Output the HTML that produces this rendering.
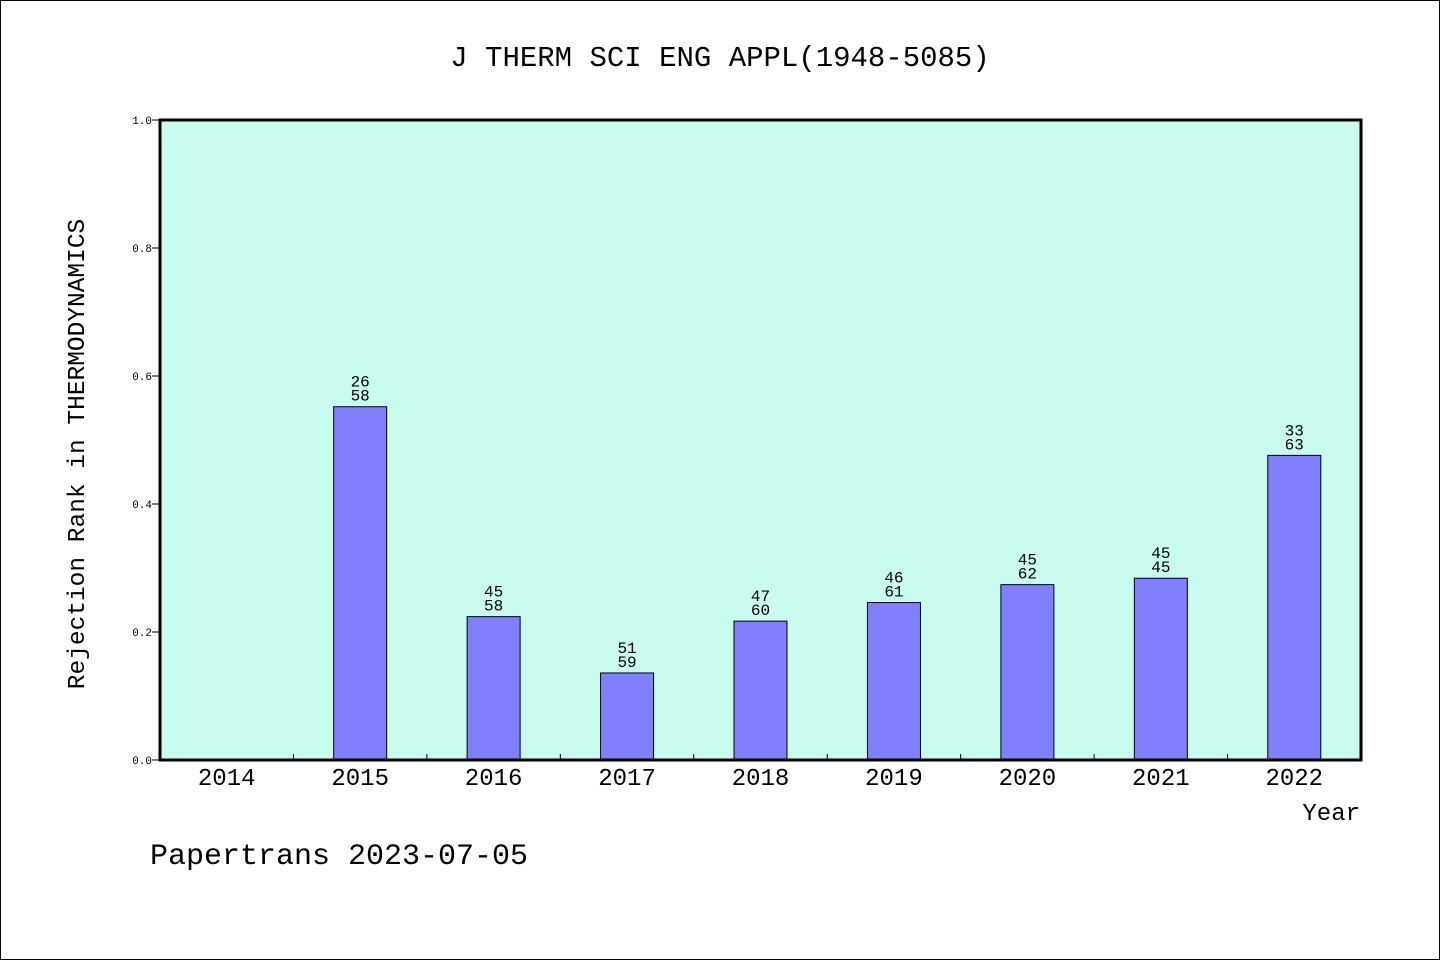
<!DOCTYPE html>
<html><head><meta charset="utf-8"><style>
body{margin:0;background:#fff}
svg text{font-family:"Liberation Mono","WenQuanYi Zen Hei",monospace;fill:#000}
</style></head><body>
<svg width="1440" height="960" xmlns="http://www.w3.org/2000/svg">
<rect x="0.5" y="0.5" width="1439" height="959" fill="#fff" stroke="#000"/>
<text x="720" y="66" font-size="29" text-anchor="middle">J THERM SCI ENG APPL(1948-5085)</text>
<rect x="160" y="120" width="1201" height="640" fill="#c8fcef"/>
<g id="marks"></g>
<rect x="160" y="120" width="1201" height="640" fill="none" stroke="#000" stroke-width="3"/>
<text x="1360" y="820" font-size="24" text-anchor="end">Year</text>
<text transform="translate(84,454) rotate(-90)" font-size="24.5" text-anchor="middle">Rejection Rank in THERMODYNAMICS</text>
<text x="150" y="864" font-size="30">Papertrans 2023-07-05</text>
</svg>
<script>
const categories=["2014","2015","2016","2017","2018","2019","2020","2021","2022"];
const values=[null,0.552,0.224,0.136,0.217,0.246,0.274,0.284,0.476];
const ranks=[null,"26","45","51","47","46","45","45","33"];
const totals=[null,"58","58","59","60","61","62","45","63"];
const yTicks=["0.0","0.2","0.4","0.6","0.8","1.0"];
const NS="http://www.w3.org/2000/svg";
const g=document.getElementById('marks');
const x0=160,x1=1361,y0=760,y1=120;
const band=(x1-x0)/categories.length;
const xs=i=>x0+band*(i+0.5);
const ys=v=>y0-(y0-y1)*v;
function mk(t,a){const e=document.createElementNS(NS,t);for(const k in a)e.setAttribute(k,a[k]);g.appendChild(e);return e;}
yTicks.forEach(t=>{const y=ys(parseFloat(t));
const l=mk('line',{x1:x0-8,x2:x0,y1:y,y2:y,stroke:'#000'});


const tx=mk('text',{x:x0-8,y:y+4,'font-size':11,'text-anchor':'end'});tx.textContent=t;

});
categories.forEach((c,i)=>{
if(i>0){const bx=x0+band*i;const l=mk('line',{x1:bx,x2:bx,y1:y0-6,y2:y0,stroke:'#000'});

}
const tx=mk('text',{x:xs(i),y:y0+25,'font-size':24,'text-anchor':'middle'});tx.textContent=c;


if(values[i]==null)return;
const y=ys(values[i]);
const r=mk('rect',{x:xs(i)-26.5,y:y,width:53,height:y0-y,fill:'#8080ff',stroke:'#000'});


const a=mk('text',{x:xs(i),y:y-20,'font-size':16,'text-anchor':'middle'});a.textContent=ranks[i];


const b=mk('text',{x:xs(i),y:y-6,'font-size':16,'text-anchor':'middle'});b.textContent=totals[i];


});
</script>
</body></html>
